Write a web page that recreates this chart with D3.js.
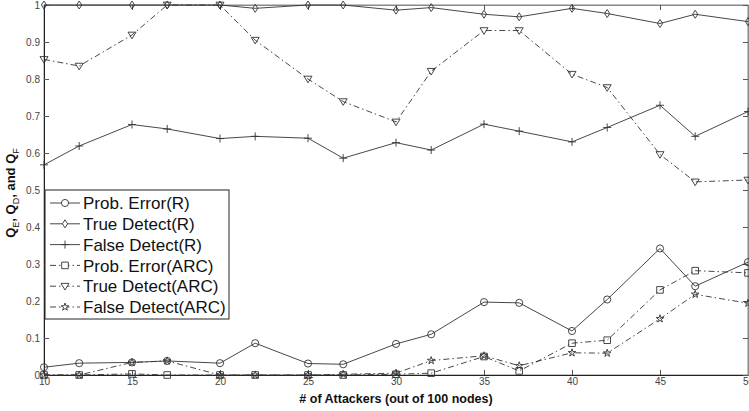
<!DOCTYPE html>
<html>
<head>
<meta charset="utf-8">
<script src="https://cdn.jsdelivr.net/npm/d3@7"></script>
<style>
body { margin: 0; background: #fff; }
svg { font-family: "Liberation Sans", Arial, sans-serif; }
</style>
</head>
<body>
<svg id="chart" width="749" height="411"></svg>
<script>
// attackers (out of 100 nodes)
var attackers = [10, 12, 15, 17, 20, 22, 25, 27, 30, 32, 35, 37, 40, 42, 45, 47, 50];

var probErrorR  = [0.021, 0.032, 0.034, 0.038, 0.032, 0.086, 0.031, 0.029, 0.084, 0.110, 0.197, 0.195, 0.119, 0.204, 0.342, 0.240, 0.305];
var trueDetR    = [1.0, 1.0, 1.0, 1.0, 1.0, 0.991, 1.0, 1.0, 0.986, 0.993, 0.975, 0.968, 0.991, 0.977, 0.950, 0.975, 0.955];
var falseDetR   = [0.568, 0.619, 0.677, 0.665, 0.639, 0.645, 0.640, 0.586, 0.628, 0.608, 0.678, 0.659, 0.630, 0.669, 0.729, 0.645, 0.712];
var probErrorA  = [0, 0, 0.003, 0, 0, 0, 0, 0, 0.002, 0.005, 0.050, 0.011, 0.086, 0.094, 0.230, 0.282, 0.276];
var trueDetA    = [0.853, 0.835, 0.919, 1.0, 1.0, 0.905, 0.800, 0.739, 0.684, 0.821, 0.931, 0.931, 0.813, 0.777, 0.596, 0.522, 0.527];
var falseDetA   = [0, 0, 0.034, 0.038, 0, 0, 0, 0.002, 0.005, 0.039, 0.052, 0.025, 0.060, 0.059, 0.152, 0.218, 0.194];

var seriesNames = ["Prob. Error(R)", "True Detect(R)", "False Detect(R)",
                   "Prob. Error(ARC)", "True Detect(ARC)", "False Detect(ARC)"];
var seriesVals = [probErrorR, trueDetR, falseDetR, probErrorA, trueDetA, falseDetA];
var seriesMarks = ["circle", "diamond", "plus", "square", "triangle", "star"];

var xTicks = [10, 15, 20, 25, 30, 35, 40, 45, 50];
var yTicks = [0, 0.1, 0.2, 0.3, 0.4, 0.5, 0.6, 0.7, 0.8, 0.9, 1];

function markerPath(kind) {
    switch (kind) {
    case "circle": return d3.symbol().type(d3.symbolCircle).size(40)();
    case "diamond": return "M0,-4L2.6,0L0,4L-2.6,0Z";
    case "plus": return "M-4,0L4,0M0,-4L0,4";
    case "square": return "M-3.3,-3.3L3.3,-3.3L3.3,3.3L-3.3,3.3Z";
    case "triangle": return "M-4,-2.8L4,-2.8L0,3.8Z";
    case "star": return d3.symbol().type(d3.symbolStar).size(18)();
    }
}

function draw() {
    var svg = d3.select("#chart");
    var pLeft = 44, pRight = 748, pTop = 5, pBottom = 375;
    var ink = "#333";

    var x = d3.scaleLinear().domain([10, 50]).range([pLeft, pRight]);
    var y = d3.scaleLinear().domain([0, 1]).range([pBottom, pTop]);

    // box
    svg.append("rect").attr("x", pLeft).attr("y", pTop)
        .attr("width", pRight - pLeft).attr("height", pBottom - pTop)
        .attr("fill", "none").attr("stroke", "#888").attr("stroke-width", 1);

    // axes with inner ticks, mirrored on top and right
    var gx = svg.append("g").attr("transform", "translate(0," + pBottom + ")")
        .call(d3.axisBottom(x).tickValues(xTicks).tickSize(-5).tickPadding(3)
              .tickFormat(d3.format("d")));
    var gxTop = svg.append("g").attr("transform", "translate(0," + pTop + ")")
        .call(d3.axisTop(x).tickValues(xTicks).tickSize(-5).tickFormat(""));
    var gy = svg.append("g").attr("transform", "translate(" + pLeft + ",0)")
        .call(d3.axisLeft(y).tickValues(yTicks).tickSize(-5).tickPadding(4)
              .tickFormat(function(d) { return d === 0 ? "0" : d === 1 ? "1" : d3.format(".1f")(d); }));
    var gyRight = svg.append("g").attr("transform", "translate(" + pRight + ",0)")
        .call(d3.axisRight(y).tickValues(yTicks).tickSize(-5).tickFormat(""));

    [gx, gxTop, gy, gyRight].forEach(function(g) {
        g.select(".domain").attr("stroke", "#888");
        g.selectAll(".tick line").attr("stroke", "#555");
        g.selectAll("text").attr("fill", "#444").style("font-size", "10px")
            .style("font-family", "'Liberation Sans', Arial, sans-serif");
    });
    gx.select(".domain").attr("stroke", "#222");
    gy.select(".domain").attr("stroke", "#222");

    // lines + markers
    var line = d3.line()
        .x(function(d, i) { return x(attackers[i]); })
        .y(function(d) { return y(d); });

    seriesVals.forEach(function(vals, s) {
        var dashed = s >= 3;
        svg.append("path").datum(vals)
            .attr("d", line)
            .attr("fill", "none")
            .attr("stroke", ink)
            .attr("stroke-width", 0.9)
            .attr("stroke-dasharray", dashed ? "6,3,1.5,3" : null);
        svg.selectAll("path.mk" + s).data(vals).enter().append("path")
            .attr("class", "mk" + s)
            .attr("d", markerPath(seriesMarks[s]))
            .attr("transform", function(d, i) { return "translate(" + x(attackers[i]) + "," + y(d) + ")"; })
            .attr("fill", "none").attr("stroke", ink).attr("stroke-width", 0.9);
    });

    // legend
    var lg = svg.append("g").attr("transform", "translate(45,190)");
    lg.append("rect").attr("width", 184).attr("height", 129)
        .attr("fill", "#fff").attr("stroke", "#222").attr("stroke-width", 1);
    seriesNames.forEach(function(name, s) {
        var yy = 13 + s * 20.8;
        lg.append("line").attr("x1", 5).attr("x2", 35).attr("y1", yy).attr("y2", yy)
            .attr("stroke", ink).attr("stroke-width", 0.9)
            .attr("stroke-dasharray", s >= 3 ? "6,3,1.5,3" : null);
        lg.append("path").attr("d", markerPath(seriesMarks[s]))
            .attr("transform", "translate(20," + yy + ")")
            .attr("fill", "#fff").attr("stroke", ink).attr("stroke-width", 0.9);
        lg.append("text").attr("x", 38).attr("y", yy).attr("dy", "0.36em")
            .style("font-size", "17px").attr("fill", "#111").text(name);
    });

    // axis titles
    svg.append("text").attr("x", 396).attr("y", 403).attr("text-anchor", "middle")
        .style("font-size", "12.5px").style("font-weight", "bold").attr("fill", "#111")
        .text("# of Attackers (out of 100 nodes)");

    var yl = svg.append("text").attr("transform", "translate(15,193) rotate(-90)")
        .attr("text-anchor", "middle").style("font-size", "13px").style("font-weight", "bold")
        .attr("fill", "#111");
    yl.append("tspan").text("Q");
    yl.append("tspan").attr("dy", 4).style("font-size", "9px").style("font-weight", "normal").text("E");
    yl.append("tspan").attr("dy", -4).text(", Q");
    yl.append("tspan").attr("dy", 4).style("font-size", "9px").style("font-weight", "normal").text("D");
    yl.append("tspan").attr("dy", -4).text(", and Q");
    yl.append("tspan").attr("dy", 4).style("font-size", "9px").style("font-weight", "normal").text("F");
}

draw();
</script>
</body>
</html>
